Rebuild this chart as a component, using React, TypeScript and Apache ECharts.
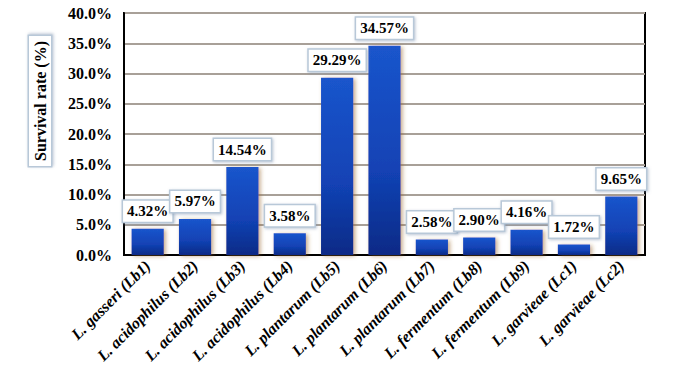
import React, { useEffect, useRef } from "react";
import * as echarts from "echarts";

const categories = [
  "L. gasseri (Lb1)",
  "L. acidophilus (Lb2)",
  "L. acidophilus (Lb3)",
  "L. acidophilus (Lb4)",
  "L. plantarum (Lb5)",
  "L. plantarum (Lb6)",
  "L. plantarum (Lb7)",
  "L. fermentum (Lb8)",
  "L. fermentum (Lb9)",
  "L. garvieae (Lc1)",
  "L. garvieae (Lc2)",
];
const survival = [4.32, 5.97, 14.54, 3.58, 29.29, 34.57, 2.58, 2.9, 4.16, 1.72, 9.65];
const yTicks = { min: 0, max: 40, interval: 5 };

const FONT = "Liberation Serif";

export default function App() {
  const ref = useRef<HTMLDivElement>(null);
  useEffect(() => {
    if (!ref.current) return;
    const chart = echarts.init(ref.current, undefined, { renderer: "svg" });
    chart.setOption({
      animation: false,
      backgroundColor: "#ffffff",
      textStyle: { fontFamily: FONT },
      grid: {
        left: 124,
        right: 43,
        top: 13,
        bottom: 116,
        show: true,
        borderColor: "#000000",
        borderWidth: 2,
        backgroundColor: "transparent",
      },
      graphic: [
        {
          type: "text",
          x: 40,
          y: 101,
          rotation: Math.PI / 2,
          style: {
            text: "Survival rate (%)",
            fontFamily: FONT,
            fontWeight: "bold",
            fontSize: 16,
            fill: "#000",
            align: "center",
            verticalAlign: "middle",
            backgroundColor: "#ffffff",
            borderColor: "#b8c8d8",
            borderWidth: 1.5,
            padding: [3, 5],
            shadowColor: "rgba(120,140,170,0.5)",
            shadowBlur: 3,
            shadowOffsetX: 1,
            shadowOffsetY: 1,
          },
        },
      ],
      xAxis: {
        type: "category",
        data: categories,
        axisTick: { show: false },
        axisLine: { show: true, lineStyle: { color: "#000", width: 2 } },
        axisLabel: {
          interval: 0,
          rotate: 45,
          margin: 8,
          fontFamily: FONT,
          fontWeight: "bold",
          fontStyle: "italic",
          fontSize: 16,
          color: "#000",
        },
      },
      yAxis: {
        type: "value",
        min: yTicks.min,
        max: yTicks.max,
        interval: yTicks.interval,
        axisLine: { show: true, lineStyle: { color: "#000", width: 2 } },
        axisTick: { show: false },
        splitLine: { show: true, lineStyle: { color: "#a8a098", width: 2 } },
        axisLabel: {
          margin: 12,
          formatter: (v: number) => v.toFixed(1) + "%",
          fontFamily: FONT,
          fontWeight: "bold",
          fontSize: 16,
          color: "#000",
        },
      },
      series: [
        {
          type: "bar",
          data: survival,
          barWidth: "68%",
          itemStyle: {
            color: new echarts.graphic.LinearGradient(0, 0, 0, 1, [
              { offset: 0, color: "#1a55cc" },
              { offset: 0.6, color: "#1242b4" },
              { offset: 1, color: "#0a2a86" },
            ]),
            shadowColor: "rgba(150,100,40,0.55)",
            shadowBlur: 4,
            shadowOffsetX: 2,
            shadowOffsetY: 1,
          },
          label: {
            show: true,
            position: "top",
            distance: 7,
            formatter: (p: any) => p.value.toFixed(2) + "%",
            fontFamily: FONT,
            fontWeight: "bold",
            fontSize: 15,
            color: "#000",
            backgroundColor: "#ffffff",
            borderColor: "#b8c8d8",
            borderWidth: 1.5,
            padding: [3, 4],
            shadowColor: "rgba(120,140,170,0.5)",
            shadowBlur: 3,
            shadowOffsetX: 1,
            shadowOffsetY: 1,
          },
        },
      ],
    });
    return () => chart.dispose();
  }, []);
  return <div ref={ref} style={{ width: 688, height: 371, position: "absolute", left: 0, top: 0 }} />;
}
